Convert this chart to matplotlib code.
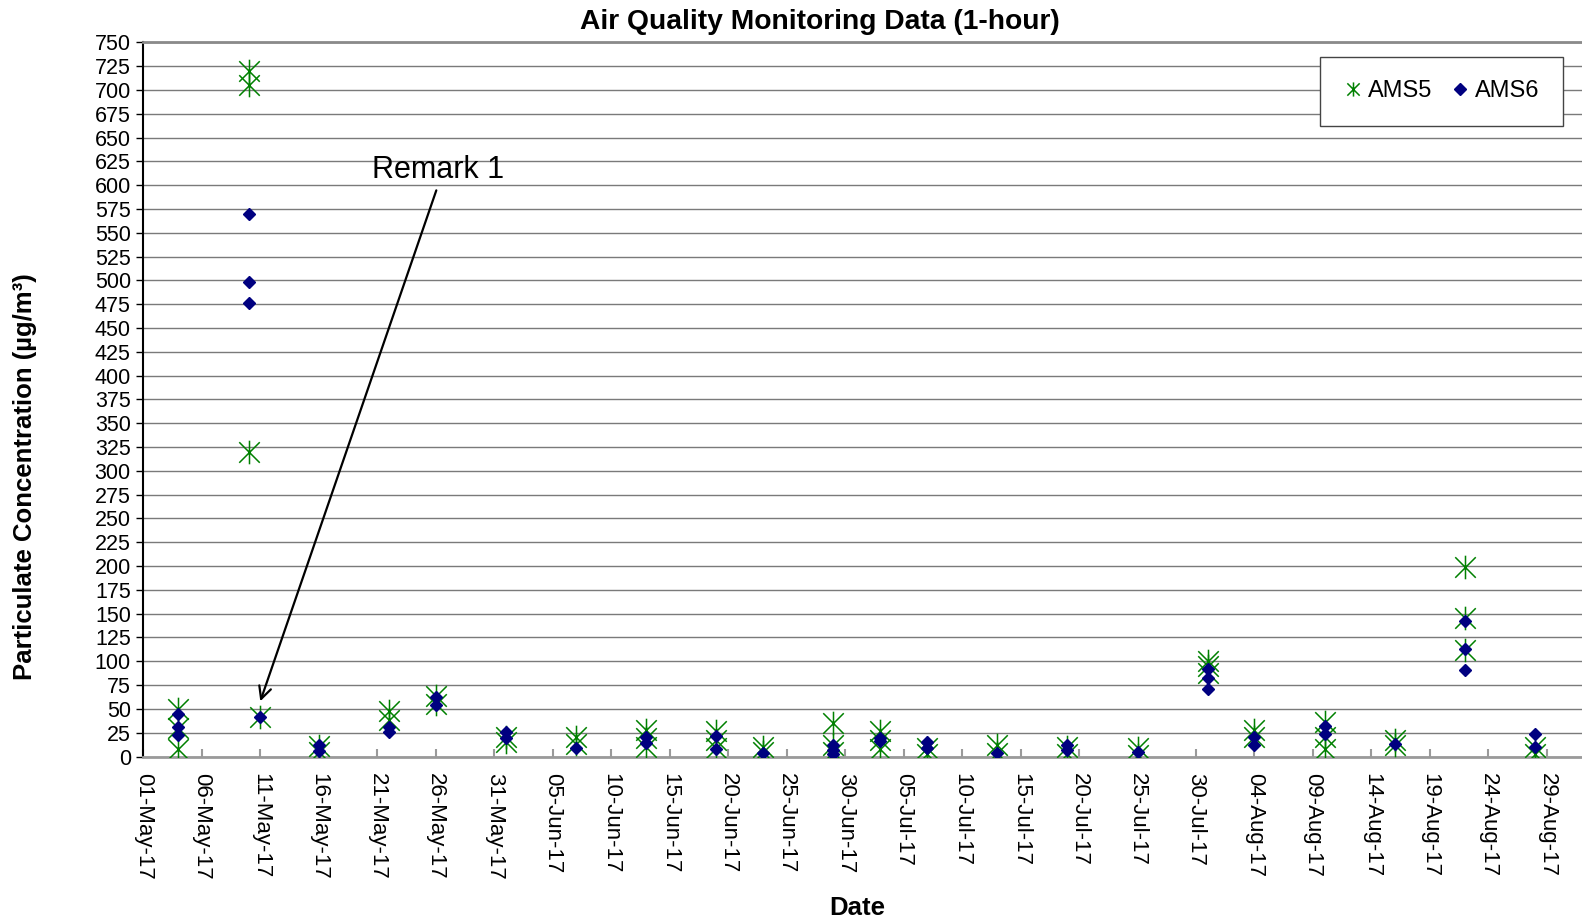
import numpy as np
import pandas as pd
import matplotlib
matplotlib.use("Agg")
import matplotlib.pyplot as plt
import matplotlib.dates as mdates
from matplotlib.path import Path

plt.rcParams['font.family'] = ['Liberation Sans', 'DejaVu Sans']

# AMS5 readings (one entry per reading)
ams5_dates = ['2017-05-04', '2017-05-04', '2017-05-04',
              '2017-05-10', '2017-05-10', '2017-05-10',
              '2017-05-11',
              '2017-05-16', '2017-05-16',
              '2017-05-22', '2017-05-22',
              '2017-05-26', '2017-05-26',
              '2017-06-01', '2017-06-01',
              '2017-06-07', '2017-06-07',
              '2017-06-13', '2017-06-13', '2017-06-13',
              '2017-06-19', '2017-06-19', '2017-06-19',
              '2017-06-23', '2017-06-23',
              '2017-06-29', '2017-06-29', '2017-06-29',
              '2017-07-03', '2017-07-03', '2017-07-03',
              '2017-07-07', '2017-07-07',
              '2017-07-13', '2017-07-13',
              '2017-07-19', '2017-07-19',
              '2017-07-25', '2017-07-25',
              '2017-07-31', '2017-07-31', '2017-07-31',
              '2017-08-04', '2017-08-04',
              '2017-08-10', '2017-08-10', '2017-08-10',
              '2017-08-16', '2017-08-16',
              '2017-08-22', '2017-08-22', '2017-08-22',
              '2017-08-28', '2017-08-28']
ams5_vals = [50, 30, 8,
             720, 705, 320,
             42,
             11, 5,
             48, 38,
             64, 55,
             20, 15,
             20, 13,
             28, 19, 10,
             27, 17, 9,
             10, 5,
             35, 12, 5,
             27, 17, 8,
             9, 3,
             12, 4,
             10, 3,
             9, 2,
             100, 95, 88,
             28, 20,
             36, 20, 8,
             17, 12,
             199, 145, 112,
             10, 3]

# AMS6 readings
ams6_dates = ['2017-05-04', '2017-05-04', '2017-05-04',
              '2017-05-10', '2017-05-10', '2017-05-10',
              '2017-05-11',
              '2017-05-16', '2017-05-16',
              '2017-05-22', '2017-05-22',
              '2017-05-26', '2017-05-26',
              '2017-06-01', '2017-06-01',
              '2017-06-07',
              '2017-06-13', '2017-06-13',
              '2017-06-19', '2017-06-19',
              '2017-06-23',
              '2017-06-29', '2017-06-29', '2017-06-29',
              '2017-07-03', '2017-07-03',
              '2017-07-07', '2017-07-07',
              '2017-07-13',
              '2017-07-19', '2017-07-19',
              '2017-07-25',
              '2017-07-31', '2017-07-31', '2017-07-31',
              '2017-08-04', '2017-08-04',
              '2017-08-10', '2017-08-10',
              '2017-08-16',
              '2017-08-22', '2017-08-22', '2017-08-22',
              '2017-08-28', '2017-08-28']
ams6_vals = [45, 31, 23,
             570, 498, 476,
             42,
             12, 6,
             31, 26,
             63, 54,
             26, 19,
             9,
             21, 14,
             22, 8,
             4,
             12, 7, 3,
             19, 16,
             15, 9,
             4,
             12, 7,
             5,
             92, 82, 71,
             21, 12,
             32, 24,
             13,
             142, 113, 91,
             24, 10]

x5 = pd.to_datetime(ams5_dates)
x6 = pd.to_datetime(ams6_dates)

# excel style "*" marker: an X with a vertical bar
star = Path([(-1, -1), (1, 1), (-1, 1), (1, -1), (0, -1.15), (0, 1.15)],
            [Path.MOVETO, Path.LINETO, Path.MOVETO, Path.LINETO, Path.MOVETO, Path.LINETO])

fig = plt.figure(figsize=(15.82, 9.21), dpi=100)
ax = fig.add_axes([0.0906, 0.1786, 0.9094, 0.7754])

ax.plot(x5, ams5_vals, linestyle='none', marker=star, markersize=17,
        markeredgecolor='#008000', markeredgewidth=1.1, markerfacecolor='none',
        label='AMS5', zorder=3)
ax.plot(x6, ams6_vals, linestyle='none', marker='D', markersize=6.2,
        color='#000080', label='AMS6', zorder=4)

ax.set_xlim(pd.Timestamp('2017-05-01'), pd.Timestamp('2017-09-01'))
ax.set_ylim(0, 750)
ax.set_yticks(np.arange(0, 751, 25))
ticks = pd.date_range('2017-05-01', '2017-08-31', freq='5D')
ax.set_xticks(ticks)
ax.xaxis.set_major_formatter(mdates.DateFormatter('%d-%b-%y'))

ax.grid(axis='y', color='#7a7a7a', linewidth=1.0)
ax.set_axisbelow(True)
ax.spines['right'].set_visible(False)
ax.spines['top'].set_color('#8a8a8a')
ax.spines['top'].set_linewidth(2)
ax.spines['bottom'].set_color('#9a9a9a')
ax.spines['bottom'].set_linewidth(2)
ax.spines['left'].set_color('black')
ax.spines['left'].set_linewidth(1.5)

ax.tick_params(axis='y', direction='out', length=5, width=1, colors='black', labelsize=15.5, pad=4)
ax.tick_params(axis='x', direction='in', length=6, width=1.5, color='#9a9a9a',
               labelcolor='black', labelsize=16, pad=12)
for lab in ax.get_xticklabels():
    lab.set_rotation(270)
    lab.set_va('top')
    lab.set_ha('center')

ax.annotate('Remark 1', xy=(pd.Timestamp('2017-05-11'), 58),
            xytext=(pd.Timestamp('2017-05-26') + pd.Timedelta(hours=5), 616),
            ha='center', va='center', fontsize=22,
            arrowprops=dict(arrowstyle='->', lw=1.6, color='black',
                            relpos=(0.5, 0.0), shrinkA=2, shrinkB=0))

leg = ax.legend(loc='center', bbox_to_anchor=(0.9112, 0.9007), bbox_transform=fig.transFigure,
                ncol=2, fontsize=17, frameon=True, fancybox=False, framealpha=1,
                edgecolor='#444444', borderpad=1.0, handlelength=0.8, handletextpad=0.2,
                columnspacing=0.8, markerscale=0.6)
leg.get_frame().set_linewidth(1.0)
leg.legend_handles[1].set_markersize(6.2)

fig.text(0.518, 0.976, 'Air Quality Monitoring Data (1-hour)', ha='center', va='center',
         fontsize=20.3, fontweight='bold')
fig.text(0.016, 0.483, 'Particulate Concentration (µg/m³)', ha='center', va='center',
         rotation=90, fontsize=18.5, fontweight='bold')
fig.text(0.542, 0.027, 'Date', ha='center', va='top', fontsize=18.5, fontweight='bold')

plt.savefig('out.png', dpi=100)
